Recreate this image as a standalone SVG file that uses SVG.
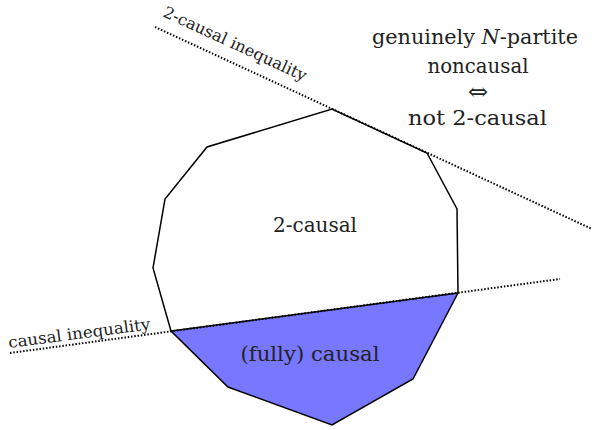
<svg xmlns="http://www.w3.org/2000/svg" width="592" height="430" viewBox="0 0 592 430">
<style>
.t{font-family:'DejaVu Serif','Liberation Serif',serif;fill:#222;}
.edge{stroke:#000;stroke-width:1.5;stroke-linejoin:miter;}
.dot{fill:none;stroke:#000;stroke-width:2;stroke-dasharray:1.5 1.8;}
</style>
<rect width="592" height="430" fill="#fff"/>
<g id="causal-region">
<polygon points="171,331 458,293 413,379 332,425 228,387" style="fill:#7777ff" class="edge"/>
<text class="t" x="310" y="361" font-size="20.5" text-anchor="middle" textLength="139" lengthAdjust="spacingAndGlyphs">(fully) causal</text>
</g>
<g id="two-causal-region">
<polyline class="edge" style="fill:none" points="171,331 153,268 165,199 207,147 332,109 427,153 457,209 458,293"/>
<text class="t" x="315" y="232" font-size="20.5" text-anchor="middle" textLength="84" lengthAdjust="spacingAndGlyphs">2-causal</text>
</g>
<g id="connectors">
<line class="dot" x1="155" y1="27" x2="592" y2="229"/>
<line class="dot" x1="10" y1="353" x2="560" y2="279"/>
</g>
<g id="labels">
<text class="t" font-size="16" transform="translate(162,16) rotate(24.8)" textLength="156" lengthAdjust="spacingAndGlyphs">2-causal inequality</text>
<text class="t" font-size="16" transform="translate(9,348) rotate(-7.5)" textLength="143" lengthAdjust="spacingAndGlyphs">causal inequality</text>
</g>
<g id="note">
<text class="t" font-size="20.5" text-anchor="middle" x="475" y="44" textLength="206" lengthAdjust="spacingAndGlyphs">genuinely <tspan font-style="italic">N</tspan>-partite</text>
<text class="t" font-size="20.5" text-anchor="middle" x="478" y="73" textLength="101" lengthAdjust="spacingAndGlyphs">noncausal</text>
<text class="t" font-size="24" text-anchor="middle" x="478" y="100">⇔</text>
<text class="t" font-size="20.5" text-anchor="middle" x="477.5" y="125" textLength="139" lengthAdjust="spacingAndGlyphs">not 2-causal</text>
</g>
</svg>
